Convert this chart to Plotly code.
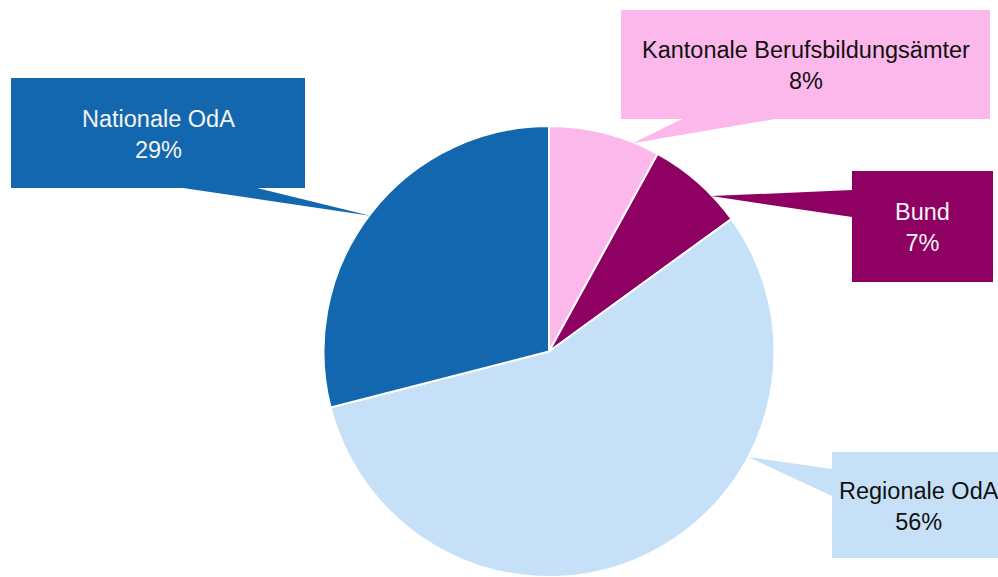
import math
import plotly.graph_objects as go

# ---- data ----
labels = ["Kantonale Berufsbildungsämter", "Bund", "Regionale OdA", "Nationale OdA"]
values = [8, 7, 56, 29]
colors = ["#FCB8EA", "#8E0062", "#C6E1F7", "#1367AE"]
text_colors = ["#111111", "#F4F4F4", "#111111", "#F4F4F4"]

# ---- layout (pixels) ----
W, H = 998, 577
CX, CY, R = 549, 352, 226
# callout boxes: (x0, y0, x1, y1), pointer base points, tip angle (deg clockwise from top)
boxes = [(621, 10, 990, 119), (852, 171, 993, 282), (832, 452, 1006, 558), (11, 78, 305, 188)]
bases = [((682, 119), (775, 119)), ((852, 190), (852, 217)),
         ((832, 469), (832, 496)), ((183, 188), (257, 188))]
tip_angles = [21.8, 46.1, 117.8, 307.3]


def px(x):
    return x / W


def py(y):
    return 1 - y / H


fig = go.Figure(go.Pie(
    labels=labels, values=values, sort=False, direction="clockwise", rotation=0,
    marker=dict(colors=colors, line=dict(color="white", width=2)),
    textinfo="none", hoverinfo="label+percent", showlegend=False,
    domain=dict(x=[px(CX - R), px(CX + R)], y=[0, py(CY - R)]),
))

shapes, annotations = [], []
total = sum(values)
for lab, v, col, tcol, box, base, ang in zip(labels, values, colors, text_colors, boxes, bases, tip_angles):
    a = math.radians(ang)
    tx = CX + R * 0.995 * math.sin(a)
    ty = CY - R * 0.995 * math.cos(a)
    (b1x, b1y), (b2x, b2y) = base
    shapes.append(dict(type="path", xref="paper", yref="paper",
                       path=f"M {px(b1x)},{py(b1y)} L {px(tx)},{py(ty)} L {px(b2x)},{py(b2y)} Z",
                       fillcolor=col, line=dict(width=0), layer="above"))
    x0, y0, x1, y1 = box
    shapes.append(dict(type="rect", xref="paper", yref="paper",
                       x0=px(x0), x1=px(x1), y0=py(y1), y1=py(y0),
                       fillcolor=col, line=dict(width=0), layer="above"))
    pct = round(100 * v / total)
    annotations.append(dict(xref="paper", yref="paper", x=px((x0 + x1) / 2), y=py((y0 + y1) / 2 + 1),
                            text=f"{lab}<br>{pct}%", showarrow=False, align="center",
                            xanchor="center", yanchor="middle",
                            font=dict(family="Liberation Sans, Arial, sans-serif", size=23.5, color=tcol)))

fig.update_layout(width=W, height=H, margin=dict(l=0, r=0, t=0, b=0),
                  paper_bgcolor="white", plot_bgcolor="white",
                  shapes=shapes, annotations=annotations)
fig.write_html("out.html", config={"displayModeBar": False},
               post_script="document.body.style.margin='0';")
